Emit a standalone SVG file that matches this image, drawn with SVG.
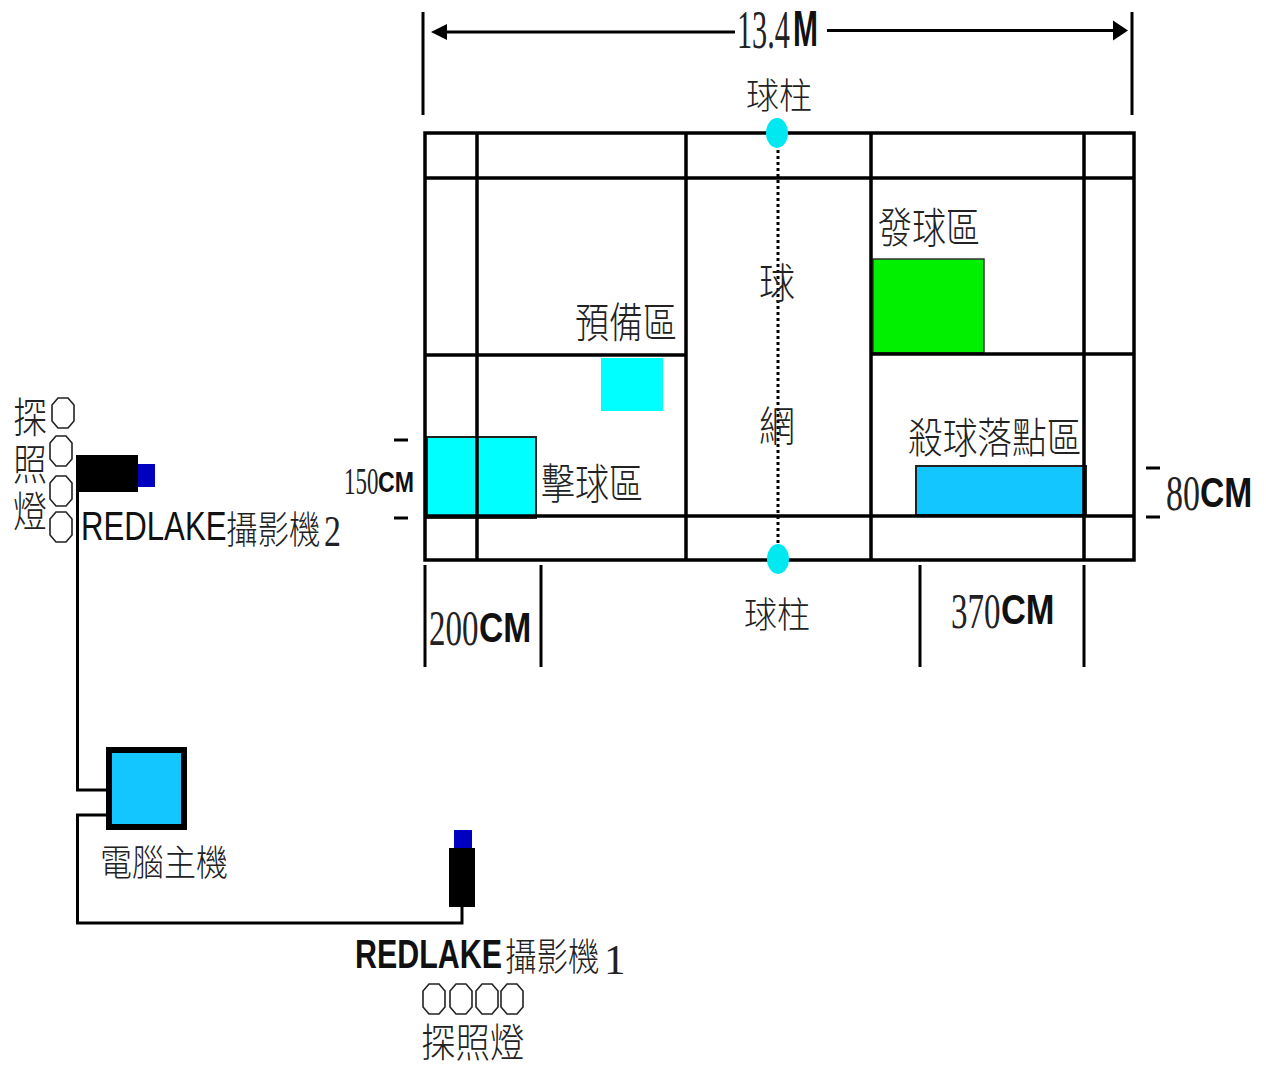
<svg xmlns="http://www.w3.org/2000/svg" width="1266" height="1068" viewBox="0 0 1266 1068">
<style>
.l{stroke:#000;stroke-width:3;fill:none}
.w{stroke:#000;stroke-width:3.5;fill:none}
.s{font-family:"Noto Sans CJK TC","Liberation Serif",serif;font-weight:300;fill:#222}
.m{font-family:"Liberation Serif",serif;fill:#222}
.b{font-family:"Liberation Sans",sans-serif;font-weight:bold;fill:#111}
.r{font-family:"Liberation Sans",sans-serif;fill:#111}
.o{fill:#fff;stroke:#222;stroke-width:1.6}
</style>
<defs>
<path id="lamp" d="M-5-15H5L11-8V8L5 15H-5L-11 8V-8Z"/>
</defs>
<rect width="1266" height="1068" fill="#fff"/>
<g id="zones">
<rect x="873" y="259" width="111" height="94" fill="#00f000" stroke="#333" stroke-width="1.5"/>
<rect x="601" y="358" width="62" height="53" fill="#00ffff"/>
<rect x="427" y="437" width="109" height="81" fill="#00ffff" stroke="#222" stroke-width="2"/>
<rect x="916" y="466" width="170" height="49" fill="#13c6ff" stroke="#222" stroke-width="2"/>
</g>
<g id="court">
<rect x="425" y="133" width="709" height="427" class="w"/>
<path class="w" d="M425 178H1134M425 355H686M871 354H1134M425 516H1134M477 133V560M686 133V560M871 133V560M1084 133V560"/>
<path d="M778 150V545" stroke="#000" stroke-width="3" stroke-dasharray="3 3" fill="none"/>
</g>
<g id="posts">
<ellipse cx="777" cy="133" rx="11" ry="15" fill="#00e8f0"/>
<ellipse cx="778" cy="559" rx="11" ry="15" fill="#00e8f0"/>
</g>
<g id="dimensions">
<path class="l" d="M423 12V115M1132 12V115M425 565V667M541 565V667M920 565V667M1084 565V667"/>
<path class="l" d="M445 32H735M827 30.500H1115"/>
<path d="M431 32L447 24V40Z M1128 30.500L1113 20.500V40.500Z" fill="#000"/>
<path class="l" d="M394 440H408M394 518H408M1146 468H1160M1146 517H1160"/>
</g>
<g id="connectors">
<path class="l" d="M77.500 490V790H108M108 815H77.500V923H462V905"/>
</g>
<g id="camera2"><rect x="76" y="455" width="62" height="37" fill="#000"/><rect x="138" y="464" width="17" height="23" fill="#0000c0"/></g>
<g id="camera1"><rect x="449" y="848" width="26" height="59" fill="#000"/><rect x="454" y="830" width="18" height="18" fill="#0000c0"/></g>
<g id="computer"><rect x="109" y="750" width="75" height="77" fill="#13c6ff" stroke="#000" stroke-width="6"/></g>
<g id="lamps2">
<use href="#lamp" class="o" x="63" y="413"/><use href="#lamp" class="o" x="61" y="451"/><use href="#lamp" class="o" x="61" y="491"/><use href="#lamp" class="o" x="61" y="527"/>
</g>
<g id="lamps1">
<use href="#lamp" class="o" x="434" y="999"/><use href="#lamp" class="o" x="461" y="999"/><use href="#lamp" class="o" x="487" y="999"/><use href="#lamp" class="o" x="512" y="999"/>
</g>
<g id="labels">
<text class="m" font-size="54" transform="translate(737 48) scale(.56 1)">13.4</text>
<text class="r" font-size="50" font-weight="bold" transform="translate(793 46) scale(.6 1)">M</text>
<text class="s" font-size="33" transform="translate(746 109) scale(1 1.1)">球柱</text>
<text class="s" font-size="33" transform="translate(744 628) scale(1 1.1)">球柱</text>
<text class="s" font-size="36" transform="translate(759 298) scale(1 1.15)">球</text>
<text class="s" font-size="36" transform="translate(759 441) scale(1 1.15)">網</text>
<text class="s" font-size="34" transform="translate(878 243) scale(1 1.25)">發球區</text>
<text class="s" font-size="34" transform="translate(575 338) scale(1 1.25)">預備區</text>
<text class="s" font-size="34" transform="translate(541 499) scale(1 1.25)">擊球區</text>
<text class="s" font-size="34" transform="translate(908 453) scale(1.02 1.25)">殺球落點區</text>
<text class="m" font-size="37" transform="translate(344 494) scale(.62 1)">150</text>
<text class="b" font-size="30" transform="translate(378 492) scale(.77 1)">CM</text>
<text class="m" font-size="50" transform="translate(1166 510) scale(.68 1)">80</text>
<text class="b" font-size="42" transform="translate(1200 507) scale(.8 1)">CM</text>
<text class="m" font-size="50" transform="translate(429 645) scale(.66 1)">200</text>
<text class="b" font-size="42" transform="translate(479 642) scale(.8 1)">CM</text>
<text class="m" font-size="50" transform="translate(951 628) scale(.66 1)">370</text>
<text class="b" font-size="42" transform="translate(1001 624) scale(.82 1)">CM</text>
<text class="s" font-size="34" writing-mode="vertical-rl" letter-spacing="3.600" transform="translate(30 396) scale(1 1.25)">探照燈</text>
<text class="r" font-size="41" transform="translate(81 540) scale(.76 1)">REDLAKE</text>
<text class="s" font-size="31.500" transform="translate(226 543) scale(1 1.2)">攝影機</text>
<text class="m" font-size="44" transform="translate(324 546) scale(.77 1)">2</text>
<text class="s" font-size="32" transform="translate(100 876) scale(1 1.15)">電腦主機</text>
<text class="b" font-size="40" transform="translate(355 968) scale(.76 1)">REDLAKE</text>
<text class="s" font-size="31.500" transform="translate(505 970) scale(1 1.2)">攝影機</text>
<text class="m" font-size="43" transform="translate(604 974)">1</text>
<text class="s" font-size="34.500" transform="translate(421 1056.500) scale(1 1.15)">探照燈</text>
</g>
</svg>
